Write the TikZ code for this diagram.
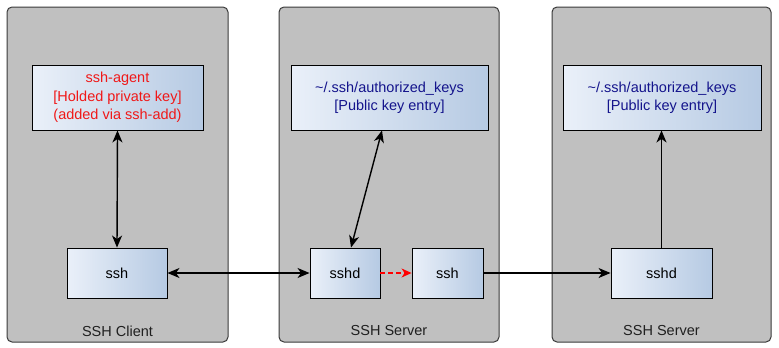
\documentclass[tikz,border=0pt]{standalone}
\usepackage{fontspec}
\setmainfont{Liberation Sans}
\usetikzlibrary{arrows.meta,shadings}
\definecolor{panelgray}{HTML}{C0C0C0}
\definecolor{panelline}{HTML}{3A3A3A}
\definecolor{boxleft}{HTML}{EAF0F9}
\definecolor{boxright}{HTML}{B6CAE3}
\definecolor{keyred}{HTML}{F01818}
\definecolor{keynavy}{HTML}{14148C}
\definecolor{captiongray}{HTML}{202020}
\tikzset{
  panel/.style={draw=panelline, fill=panelgray, rounded corners=5pt, line width=1pt,
    minimum width=#1, minimum height=335pt, inner sep=0pt},
  procbox/.style={draw=black, line width=0.9pt, left color=boxleft, right color=boxright,
    align=center, inner sep=0pt, font=\fontsize{14.5}{18.5}\selectfont},
  caption/.style={text=captiongray, font=\fontsize{14.5}{17}\selectfont, inner sep=0pt},
  link/.style={line width=1.4pt, draw=black},
  tip/.style={-{Stealth[length=12pt,width=10pt,inset=3.5pt]}},
  bitip/.style={{Stealth[length=12pt,width=10pt,inset=3.5pt]}-{Stealth[length=12pt,width=10pt,inset=3.5pt]}},
  forward/.style={line width=1.2pt, draw=red, dash pattern=on 5pt off 3pt,
    -{Stealth[length=10pt,width=9pt,inset=3pt]}}
}
\begin{document}
\begin{tikzpicture}[x=1pt,y=-1pt]
\useasboundingbox (0,0) rectangle (779,348);

% machines
\node[panel=221pt] (client)  at (117.5,174.5) {};
\node[panel=220pt] (server1) at (389,174.5) {};
\node[panel=219pt] (server2) at (661.5,174.5) {};
\node[caption] (clientlbl)  at (117.5,331) {SSH Client};
\node[caption] (server1lbl) at (389,331) {SSH Server};
\node[caption] (server2lbl) at (661.5,331) {SSH Server};

% client side
\node[procbox, minimum width=171pt, minimum height=65pt, text=keyred] (agent) at (117.5,97.5)
  {ssh-agent\\{[Holded private key]}\\(added via ssh-add)};
\node[procbox, minimum width=100pt, minimum height=50pt] (cssh) at (117,273) {ssh};

% first server
\node[procbox, minimum width=197pt, minimum height=65pt, text=keynavy] (akeys1) at (389.5,97.5)
  {\textasciitilde/.ssh/authorized\_keys\\{[Public key entry]}};
\node[procbox, minimum width=70pt, minimum height=50pt] (sshd1) at (345,273) {sshd};
\node[procbox, minimum width=71pt, minimum height=50pt] (ssh1) at (447.5,273) {ssh};

% second server
\node[procbox, minimum width=198pt, minimum height=65pt, text=keynavy] (akeys2) at (662,97.5)
  {\textasciitilde/.ssh/authorized\_keys\\{[Public key entry]}};
\node[procbox, minimum width=101pt, minimum height=50pt] (sshd2) at (661.5,273) {sshd};

% connections
\draw[link, bitip] (agent.south) -- (cssh.north);
\draw[link, bitip] (cssh.east) -- (sshd1.west);
\draw[link, bitip] ([xshift=-7.5pt]akeys1.south) -- ([xshift=6pt]sshd1.north);
\draw[forward] (sshd1.east) -- (ssh1.west);
\draw[link, tip] (ssh1.east) -- (sshd2.west);
\draw[link, tip] (sshd2.north) -- (sshd2.north |- akeys2.south);
\end{tikzpicture}
\end{document}
